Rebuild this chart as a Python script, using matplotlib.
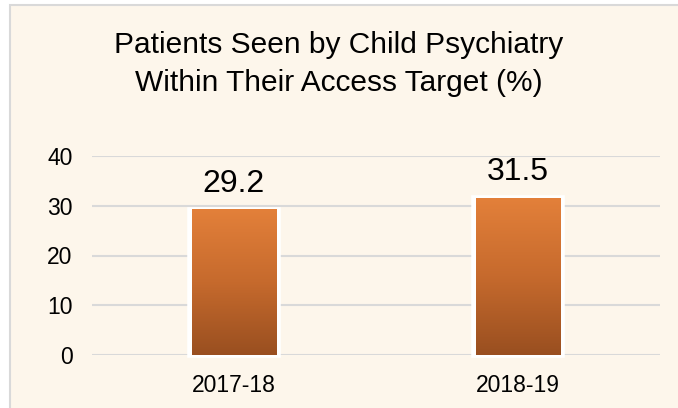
import numpy as np
import matplotlib
matplotlib.use("Agg")
import matplotlib.pyplot as plt
from matplotlib.colors import LinearSegmentedColormap
from matplotlib.patches import Rectangle

# data
years = ["2017-18", "2018-19"]
values = [29.2, 31.5]
title = "Patients Seen by Child Psychiatry\nWithin Their Access Target (%)"

plt.rcParams["font.family"] = ["Liberation Sans", "DejaVu Sans"]

fig = plt.figure(figsize=(6.78, 4.08), dpi=100, facecolor="white")

# cream panel with light grey border, cut off at right and bottom
panel = Rectangle((10 / 678, -0.05), 1.2, (408 - 5) / 408 + 0.05,
                  transform=fig.transFigure, facecolor="#FDF6EB",
                  edgecolor="#D9D9D9", linewidth=1.5, zorder=-5)
fig.patches.append(panel)

ax = fig.add_axes([92 / 678, 53 / 408, 568 / 678, 199 / 408])
ax.set_facecolor("none")

x = np.arange(len(years))
inner_w = 0.296
bars = ax.bar(x, values, width=inner_w + 0.012, color="none",
              edgecolor="white", linewidth=4, zorder=3, clip_on=False)

# vertical gradient inside each bar
cmap = LinearSegmentedColormap.from_list("orng", ["#994F20", "#C66A2D", "#E3803A"])
grad = np.linspace(0, 1, 256).reshape(-1, 1)
for xi, v in zip(x, values):
    ax.imshow(grad, cmap=cmap, origin="lower", aspect="auto",
              extent=[xi - inner_w / 2, xi + inner_w / 2, 0, v], zorder=4)
    ax.annotate(f"{v}", (xi, v), xytext=(0, 8), textcoords="offset points",
                ha="center", va="bottom", fontsize=23, color="black")

ax.set_xlim(-0.5, len(years) - 0.5)
ax.set_ylim(0, 40)
ax.set_yticks([0, 10, 20, 30, 40])
ax.set_xticks(x)
ax.set_xticklabels(years)
ax.tick_params(axis="both", length=0, labelsize=16.5, pad=14)
ax.tick_params(axis="x", pad=14)
ax.grid(axis="y", color="#D9D9D9", linewidth=1.5, zorder=1)
ax.set_axisbelow(True)
for s in ax.spines.values():
    s.set_visible(False)

fig.text(339 / 678, 1 - 64 / 408, title, ha="center", va="center",
         fontsize=21.5, linespacing=1.45)

fig.savefig("out.png", dpi=100, facecolor=fig.get_facecolor())
